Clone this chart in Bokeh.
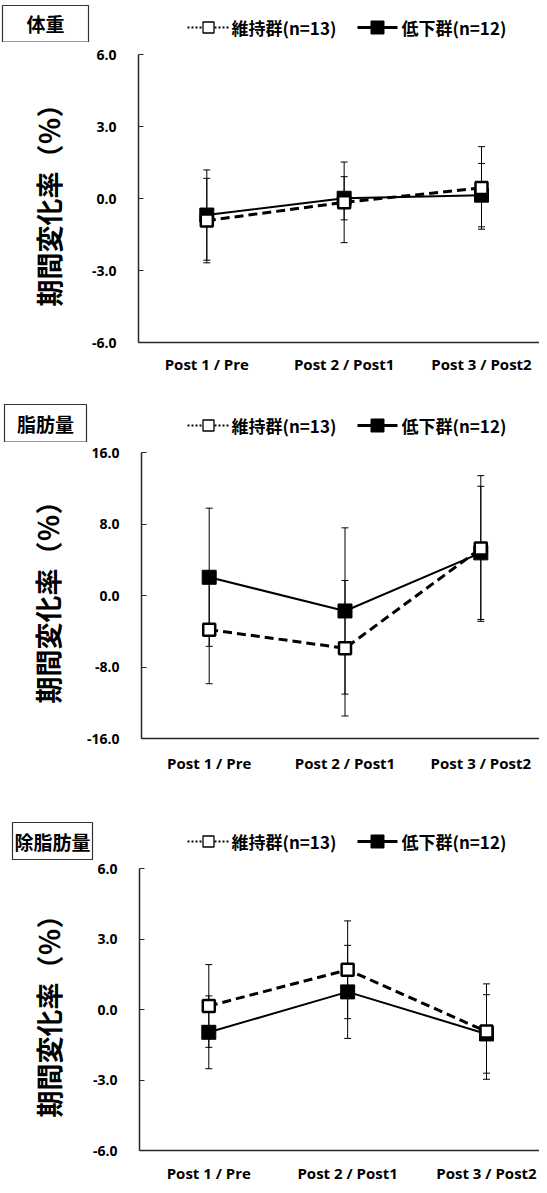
from bokeh.plotting import figure
from bokeh.models import Range1d, FixedTicker, PrintfTickFormatter
from bokeh.layouts import column
from bokeh.core.properties import value
from bokeh.embed import file_html
from bokeh.resources import INLINE

# ---------------- data ----------------
categories = ["Post 1 / Pre", "Post 2 / Post1", "Post 3 / Post2"]
x_pos = [1, 2, 3]

legend_maintain = "維持群(n=13)"
legend_decrease = "低下群(n=12)"
y_axis_title = "期間変化率（％）"
panel_titles = ["体重", "脂肪量", "除脂肪量"]

# 体重
weight_maintain_mean = [-0.92, -0.16, 0.44]
weight_maintain_sd = [1.76, 1.68, 1.72]
weight_decrease_mean = [-0.69, 0.01, 0.14]
weight_decrease_sd = [1.88, 0.90, 1.32]

# 脂肪量
fat_maintain_mean = [-3.82, -5.90, 5.26]
fat_maintain_sd = [6.05, 7.58, 8.15]
fat_decrease_mean = [2.04, -1.73, 4.77]
fat_decrease_sd = [7.73, 9.30, 7.45]

# 除脂肪量
ffm_maintain_mean = [0.15, 1.69, -0.94]
ffm_maintain_sd = [1.76, 2.08, 2.03]
ffm_decrease_mean = [-0.97, 0.75, -1.04]
ffm_decrease_sd = [1.55, 1.98, 1.67]

weight_ticks = [-6, -3, 0, 3, 6]
fat_ticks = [-16, -8, 0, 8, 16]
ffm_ticks = [-6, -3, 0, 3, 6]

# ---------------- layout (pixels, figure coordinates) ----------------
FIG_W = 539
panels = [
    dict(title=panel_titles[0], ticks=weight_ticks,
         m_mean=weight_maintain_mean, m_sd=weight_maintain_sd,
         d_mean=weight_decrease_mean, d_sd=weight_decrease_sd,
         head_h=42, box=(45, 23.25, 86, 36.5), legend_y=27,
         plot_h=356, frame_top=12, frame_h=288,
         frame_left=138, c1=206.3, c3=481.0, x_standoff=11, ylab_standoff=21),
    dict(title=panel_titles[1], ticks=fat_ticks,
         m_mean=fat_maintain_mean, m_sd=fat_maintain_sd,
         d_mean=fat_decrease_mean, d_sd=fat_decrease_sd,
         head_h=44, box=(45, 24.75, 82, 37.5), legend_y=27,
         plot_h=376, frame_top=10, frame_h=286,
         frame_left=141, c1=208.7, c3=480.3, x_standoff=14, ylab_standoff=17),
    dict(title=panel_titles[2], ticks=ffm_ticks,
         m_mean=ffm_maintain_mean, m_sd=ffm_maintain_sd,
         d_mean=ffm_decrease_mean, d_sd=ffm_decrease_sd,
         head_h=42, box=(52, 22.5, 80, 37), legend_y=23,
         plot_h=325, frame_top=8, frame_h=285,
         frame_left=139, c1=208.3, c3=486.0, x_standoff=12, ylab_standoff=22),
]

CJK = "Noto Sans CJK JP"
LAT = "Open Sans"
AX = "#262626"


def base_fig(w, h, xr, yr, **kw):
    p = figure(width=w, height=h, output_backend="svg", toolbar_location=None,
               x_range=xr, y_range=yr, **kw)
    p.frame_align = False
    p.outline_line_color = None
    p.grid.visible = False
    p.background_fill_color = "white"
    p.border_fill_color = "white"
    return p


def make_header(cfg):
    h = cfg["head_h"]
    p = base_fig(FIG_W, h, Range1d(0, FIG_W), Range1d(h, 0),
                 x_axis_location=None, y_axis_location=None, min_border=0)
    bx, by, bw, bh = cfg["box"]
    p.rect(x=[bx], y=[by], width=bw, height=bh, fill_color="white",
           line_color="#333333", line_width=1.2)
    p.text(x=[bx], y=[by], text=[cfg["title"]], text_align="center",
           text_baseline="middle", text_font=value(CJK), text_font_style="bold",
           text_font_size="19px", text_color="black")
    ly = cfg["legend_y"]
    # 維持群 symbol: dotted line + hollow square
    p.segment(x0=[187, 214], y0=[ly, ly], x1=[202, 229], y1=[ly, ly],
              line_color="black", line_width=2, line_dash="2 2")
    p.scatter(x=[208], y=[ly], marker="square", size=11, fill_color="white",
              line_color="black", line_width=1.3)
    # 低下群 symbol: solid line + filled square
    p.segment(x0=[357], y0=[ly], x1=[397], y1=[ly], line_color="black", line_width=3)
    p.scatter(x=[377], y=[ly], marker="square", size=13, fill_color="black",
              line_color="black", line_width=1)
    p.text(x=[231, 401], y=[ly, ly], text=[legend_maintain, legend_decrease],
           text_align="left", text_baseline="middle", text_font=value(CJK),
           text_font_style="bold", text_font_size="17px", text_color="black")
    return p


def make_panel(cfg):
    s = (cfg["c3"] - cfg["c1"]) / 2.0
    x0 = 1 - (cfg["c1"] - cfg["frame_left"]) / s
    x1 = 3 + (FIG_W - cfg["c3"]) / s
    ticks = cfg["ticks"]
    p = base_fig(FIG_W, cfg["plot_h"], Range1d(x0, x1), Range1d(ticks[0], ticks[-1]),
                 min_border_left=cfg["frame_left"], min_border_right=0,
                 min_border_top=cfg["frame_top"],
                 min_border_bottom=cfg["plot_h"] - cfg["frame_top"] - cfg["frame_h"])

    xa = p.xaxis[0]
    xa.ticker = FixedTicker(ticks=x_pos)
    xa.major_label_overrides = {x: c for x, c in zip(x_pos, categories)}
    xa.major_tick_in = 0
    xa.major_tick_out = 0
    xa.minor_tick_line_color = None
    xa.axis_line_color = AX
    xa.axis_line_width = 1.5
    xa.major_label_text_font = LAT
    xa.major_label_text_font_style = "bold"
    xa.major_label_text_font_size = "15px"
    xa.major_label_text_color = "black"
    xa.major_label_standoff = cfg["x_standoff"]

    ya = p.yaxis[0]
    ya.ticker = FixedTicker(ticks=ticks)
    ya.formatter = PrintfTickFormatter(format="%.1f")
    ya.major_tick_in = 5
    ya.major_tick_out = 0
    ya.major_tick_line_color = AX
    ya.major_tick_line_width = 1
    ya.minor_tick_line_color = None
    ya.axis_line_color = AX
    ya.axis_line_width = 1.5
    ya.major_label_text_font = LAT
    ya.major_label_text_font_style = "bold"
    ya.major_label_text_font_size = "14px"
    ya.major_label_text_color = "black"
    ya.major_label_standoff = 22
    ya.axis_label = y_axis_title
    ya.axis_label_text_font = CJK
    ya.axis_label_text_font_style = "bold"
    ya.axis_label_text_font_size = "27px"
    ya.axis_label_text_color = "black"
    ya.axis_label_standoff = cfg["ylab_standoff"]

    m_lo = [m - e for m, e in zip(cfg["m_mean"], cfg["m_sd"])]
    m_hi = [m + e for m, e in zip(cfg["m_mean"], cfg["m_sd"])]
    d_lo = [m - e for m, e in zip(cfg["d_mean"], cfg["d_sd"])]
    d_hi = [m + e for m, e in zip(cfg["d_mean"], cfg["d_sd"])]

    for lo, hi in ((d_lo, d_hi), (m_lo, m_hi)):
        p.segment(x0=x_pos, y0=lo, x1=x_pos, y1=hi, line_color="black", line_width=1)
        p.scatter(x=x_pos, y=lo, marker="dash", size=7, line_color="black", line_width=1)
        p.scatter(x=x_pos, y=hi, marker="dash", size=7, line_color="black", line_width=1)

    p.line(x=x_pos, y=cfg["d_mean"], line_color="black", line_width=2)
    p.scatter(x=x_pos, y=cfg["d_mean"], marker="square", size=14,
              fill_color="black", line_color="black", line_width=1)
    p.line(x=x_pos, y=cfg["m_mean"], line_color="black", line_width=3, line_dash="9 5")
    p.scatter(x=x_pos, y=cfg["m_mean"], marker="square", size=12,
              fill_color="white", line_color="black", line_width=2.5)
    return p


figs = []
for c in panels:
    figs.append(make_header(c))
    figs.append(make_panel(c))
layout = column(*figs, spacing=0)

open("out.html", "w").write(file_html(layout, INLINE))
